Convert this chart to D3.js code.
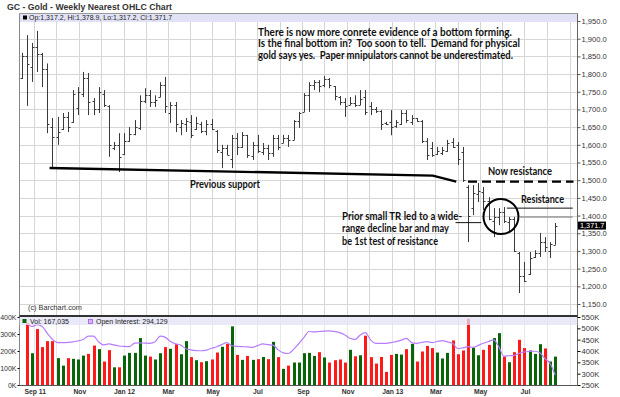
<!DOCTYPE html>
<html>
<head>
<meta charset="utf-8">
<script src="https://cdn.jsdelivr.net/npm/d3@7"></script>
<style>
  body { margin: 0; background: #fff; }
  svg { display: block; }
</style>
</head>
<body>
<div id="chart"></div>
<script>
// weekly bars, first week starts Mon Aug 15 2011
const firstWeek = new Date(2011, 7, 15);

const opens = [1790,1852,1820,1877,1856,1814,1650,1622,1645,1680, 1665,1705,1745,1790,1725,1700,1745,1710,1590,1600,
  1575,1612,1630,1648,1725,1740,1722,1736,1770,1690, 1712,1650,1660,1665,1645,1660,1640,1660,1640,1580,
  1590,1560,1620,1595,1628,1568,1600,1580,1590,1578, 1620,1605,1620,1615,1668,1693,1740,1770,1778,1768,
  1785,1765,1735,1722,1712,1718,1712,1735,1710,1702, 1695,1662,1665,1652,1660,1690,1665,1675,1668,1610,
  1590,1575,1578,1582,1608,1600,1580,1480,1420,1462, 1468,1440,1385,1395,1410,1382,1390,1295,1230,1235,
  1282,1295,1325,1300,1317.2];
const highs = [1860,1910,1888,1922,1860,1830,1676,1679,1690,1693, 1755,1763,1806,1803,1732,1763,1755,1712,1608,1633,
  1633,1650,1670,1740,1760,1755,1740,1777,1792,1721, 1721,1670,1676,1684,1679,1665,1670,1673,1642,1600,
  1600,1628,1633,1636,1628,1608,1628,1605,1600,1628, 1628,1628,1628,1670,1693,1746,1777,1783,1783,1795,
  1789,1766,1738,1732,1735,1740,1755,1755,1721,1707, 1698,1665,1698,1670,1698,1698,1684,1676,1670,1619,
  1608,1594,1594,1614,1619,1608,1594,1486,1486,1492, 1481,1452,1421,1421,1424,1396,1396,1297,1269,1297,
  1302,1351,1339,1325,1378.9];
const lows = [1786,1710,1778,1806,1763,1633,1534,1600,1642,1636, 1662,1684,1735,1684,1684,1690,1707,1566,1585,1523,
  1571,1608,1627,1642,1718,1707,1707,1735,1690,1662, 1636,1627,1636,1619,1642,1633,1627,1642,1577,1534,
  1571,1534,1571,1591,1563,1557,1577,1571,1557,1566, 1585,1605,1594,1614,1648,1693,1693,1755,1749,1763,
  1760,1726,1712,1679,1712,1707,1712,1684,1684,1690, 1642,1656,1627,1648,1656,1662,1656,1665,1605,1557,
  1566,1571,1571,1580,1591,1543,1495,1325,1401,1438, 1416,1387,1339,1373,1379,1353,1297,1181,1212,1232,
  1280,1283,1297,1280,1317.2];
const closes = [1852,1828,1877,1856,1814,1658,1622,1636,1680,1650, 1745,1750,1790,1720,1700,1750,1712,1600,1600,1565,
  1612,1630,1650,1725,1740,1722,1728,1770,1710,1712, 1660,1662,1668,1628,1662,1640,1660,1645,1585,1590,
  1572,1620,1595,1628,1570,1600,1582,1590,1578,1620, 1595,1620,1615,1668,1690,1740,1770,1778,1765,1785,
  1768,1738,1722,1710,1718,1712,1730,1692,1700,1696, 1660,1658,1650,1665,1690,1670,1675,1668,1610,1570,
  1572,1582,1585,1605,1595,1560,1500,1400,1465,1470, 1440,1390,1395,1410,1385,1390,1300,1230,1215,1280,
  1295,1325,1310,1320,1371.7];

// volume (thousands), first week has none
const volumes = [null,364,187,329,223,258,258,158,114,158, 154,150,173,183,232,211,138,205,104,104,
  173,189,189,276,173,167,150,187,223,213, 240,181,258,164,146,134,140,150,191,225,
  242,345,177,148,171,148,152,165,152,254, 164,95,114,132,132,187,189,171,193,162,
  132,146,150,132,207,169,175,290,164,126, 165,77,177,183,179,211,242,138,197,230,
  217,191,156,189,262,181,203,390,219,175, 207,236,276,305,167,134,193,266,217,203,
  183,240,215,138,167];
// open interest (thousands)
const openInterest = [null,523,508,516,508,478,451,437,437,438, 440,445,451,466,466,440,427,431,427,422,
  420,419,435,436,435,434,441,466,460,442, 432,426,410,405,402,401,404,412,419,428,
  437,423,420,419,418,416,424,431,428,426, 405,392,389,407,432,459,486,484,486,488,
  489,486,481,471,456,451,471,481,449,434, 434,434,437,441,448,456,437,434,438,441,
  437,442,446,440,434,411,414,419,416,425, 434,442,449,419,377,379,381,390,396,398,
  399,392,366,345,294];

const priceTicks = [1150,1200,1250,1300,1350,1400,1450,1500,1550,1600,1650,1700,1750,1800,1850,1900,1950];
const volLeftTicks = [0,100,200,300,400];
const volRightTicks = [250,300,350,400,450,500,550];
const monthLabels = [
  [2011,8,"Sep 11"],[2011,10,"Nov"],[2012,0,"Jan 12"],[2012,2,"Mar"],[2012,4,"May"],[2012,6,"Jul"],
  [2012,8,"Sep"],[2012,10,"Nov"],[2013,0,"Jan 13"],[2013,2,"Mar"],[2013,4,"May"],[2013,6,"Jul"]
];

// annotations in (week index, price)
const supportLine = [[5.5,1534.5],[80.2,1513],[84.8,1496]];
const nowResistance = [[87,1496],[107.7,1496]];
const resistanceLine = [[94.6,1421],[107.5,1421]];
const resistanceGray = [[97.2,1396],[107.5,1396]];
const pointerLine = [[84.6,1380],[89.7,1380]];
const circleAt = [93.5,1397];

const width = 620, height = 397;
const weekDate = i => d3.timeDay.offset(firstWeek, 7 * i);
const bars = opens.map((o, i) => ({
  date: weekDate(i), open: o, high: highs[i], low: lows[i], close: closes[i],
  vol: volumes[i], oi: openInterest[i]
}));

const x = d3.scaleTime().domain([weekDate(0), weekDate(104)]).range([21.7, 555.2]);
const y = d3.scaleLinear().domain([1150, 1950]).range([304, 21]);
const yVol = d3.scaleLinear().domain([0, 400]).range([385, 317]);
const yOI = d3.scaleLinear().domain([250, 550]).range([385, 317]);
const wx = i => x(weekDate(i));

const plotL = 19.5, plotR = 577.5, priceTop = 13.5, volTop = 316, volBot = 385;

const svg = d3.select('#chart').append('svg')
  .attr('width', width)
  .attr('height', height)
  .style('font-family', '"Liberation Sans", Arial, sans-serif');

// title
svg.append('text')
  .attr('x', 7).attr('y', 10)
  .attr('font-size', 8.5).attr('font-weight', 'bold').attr('fill', '#333')
  .attr('textLength', 165).attr('lengthAdjust', 'spacingAndGlyphs')
  .text('GC - Gold - Weekly Nearest OHLC Chart');

// grid
const months = d3.timeMonth.range(new Date(2011, 8, 1), new Date(2013, 8, 2));
const grid = svg.append('g').attr('stroke', '#d6d6d6').attr('stroke-width', 1);
grid.selectAll('.vg').data(months).enter().append('line')
  .attr('x1', d => Math.round(x(d)) + 0.5).attr('x2', d => Math.round(x(d)) + 0.5)
  .attr('y1', priceTop).attr('y2', volTop);
grid.selectAll('.hg').data(priceTicks).enter().append('line')
  .attr('x1', plotL).attr('x2', plotR)
  .attr('y1', d => Math.round(y(d)) + 0.5).attr('y2', d => Math.round(y(d)) + 0.5);
grid.selectAll('.vgv').data(months).enter().append('line')
  .attr('x1', d => Math.round(x(d)) + 0.5).attr('x2', d => Math.round(x(d)) + 0.5)
  .attr('y1', volTop).attr('y2', volBot).attr('stroke', '#e8e8e8');

// price legend band
svg.append('rect').attr('x', plotL).attr('y', priceTop).attr('width', plotR - plotL).attr('height', 8.5)
  .attr('fill', '#e2e2f6');
svg.append('rect').attr('x', 23).attr('y', 15.5).attr('width', 4).attr('height', 4).attr('fill', '#000');
svg.append('text').attr('x', 29).attr('y', 20.3).attr('font-size', 7).attr('fill', '#222')
  .text('Op:1,317.2, Hi:1,378.9, Lo:1,317.2, Cl:1,371.7');

// ohlc bars
const ohlc = svg.append('g').attr('stroke', '#3a3a3a').attr('stroke-width', 1);
bars.forEach(d => {
  const cx = Math.round(x(d.date)) + 0.5;
  ohlc.append('line').attr('x1', cx).attr('x2', cx).attr('y1', y(d.high)).attr('y2', y(d.low));
  ohlc.append('line').attr('x1', cx - 2).attr('x2', cx).attr('y1', Math.round(y(d.open)) + 0.5).attr('y2', Math.round(y(d.open)) + 0.5);
  ohlc.append('line').attr('x1', cx).attr('x2', cx + 2).attr('y1', Math.round(y(d.close)) + 0.5).attr('y2', Math.round(y(d.close)) + 0.5);
});

// frame and price axis
svg.append('line').attr('x1', plotL).attr('x2', plotL).attr('y1', priceTop).attr('y2', volBot).attr('stroke', '#888');
svg.append('line').attr('x1', plotL).attr('x2', plotR).attr('y1', priceTop).attr('y2', priceTop).attr('stroke', '#999');
svg.append('line').attr('x1', plotR).attr('x2', plotR).attr('y1', priceTop).attr('y2', volBot).attr('stroke', '#666');

const yAxis = svg.append('g').attr('transform', `translate(${plotR},0)`)
  .call(d3.axisRight(y).tickValues(priceTicks).tickSize(3).tickPadding(1).tickFormat(d3.format(',.1f')));
yAxis.select('.domain').remove();
yAxis.selectAll('line').attr('stroke', '#555');
yAxis.selectAll('text').attr('font-size', 7.6).attr('fill', '#333').attr('font-family', '"Liberation Sans", Arial, sans-serif');

// last price marker
const lastY = y(closes[closes.length - 1]);
svg.append('rect').attr('x', 578).attr('y', lastY - 4).attr('width', 28).attr('height', 8).attr('fill', '#000');
svg.append('text').attr('x', 580).attr('y', lastY + 2.6).attr('font-size', 7.3).attr('fill', '#fff')
  .text(d3.format(',.1f')(closes[closes.length - 1]));

svg.append('text').attr('x', 28).attr('y', 309.5).attr('font-size', 7.3).attr('fill', '#333').text('(c) Barchart.com');

// annotations
const pt = p => [wx(p[0]), y(p[1])];
const ann = svg.append('g');
ann.append('path').attr('d', d3.line()(supportLine.map(pt)))
  .attr('fill', 'none').attr('stroke', '#000').attr('stroke-width', 2.4);
ann.append('path').attr('d', d3.line()(nowResistance.map(pt)))
  .attr('fill', 'none').attr('stroke', '#000').attr('stroke-width', 2.4).attr('stroke-dasharray', '9,5');
ann.append('path').attr('d', d3.line()(resistanceLine.map(pt)))
  .attr('fill', 'none').attr('stroke', '#111').attr('stroke-width', 1);
ann.append('path').attr('d', d3.line()(resistanceGray.map(pt)))
  .attr('fill', 'none').attr('stroke', '#999').attr('stroke-width', 1.6);
ann.append('path').attr('d', d3.line()(pointerLine.map(pt)))
  .attr('fill', 'none').attr('stroke', '#111').attr('stroke-width', 1);
ann.append('circle').attr('cx', wx(circleAt[0])).attr('cy', y(circleAt[1])).attr('r', 17.5)
  .attr('fill', 'none').attr('stroke', '#000').attr('stroke-width', 2);

const notes = [
  [258, 35.5, 254, 'There is now more conrete evidence of a bottom forming.'],
  [258, 47, 262, 'Is the final bottom in?  Too soon to tell.  Demand for physical'],
  [258, 58.5, 255, 'gold says yes.  Paper mnipulators cannot be underestimated.'],
  [190, 187.5, 70, 'Previous support'],
  [488, 174.5, 64, 'Now resistance'],
  [521, 202.5, 43, 'Resistance'],
  [342, 219.5, 120, 'Prior small TR led to a wide-'],
  [342, 232, 107, 'range decline bar and may'],
  [342, 244.5, 96, 'be 1st test of resistance']
];
ann.selectAll('.note').data(notes).enter().append('text')
  .attr('x', d => d[0]).attr('y', d => d[1])
  .attr('textLength', d => d[2]).attr('lengthAdjust', 'spacingAndGlyphs')
  .attr('font-family', 'Lato, "Open Sans", sans-serif').attr('font-weight', 'bold')
  .attr('font-size', 10.5).attr('fill', '#111')
  .style('white-space', 'pre')
  .text(d => d[3]);

// volume panel
svg.append('g').selectAll('rect').data(bars.filter(d => d.vol != null)).enter().append('rect')
  .attr('x', d => Math.round(x(d.date)) - 1)
  .attr('y', d => yVol(d.vol))
  .attr('width', 3)
  .attr('height', d => volBot - yVol(d.vol))
  .attr('fill', d => d.close >= d.open ? '#0a640a' : '#ff1a1a');

svg.append('path')
  .attr('d', d3.line().x(d => x(d.date)).y(d => yOI(d.oi)).curve(d3.curveMonotoneX)(bars.filter(d => d.oi != null)))
  .attr('fill', 'none').attr('stroke', '#b77dff').attr('stroke-width', 1.2);

// legend band sits over the bars, half see-through
svg.append('rect').attr('x', plotL).attr('y', volTop + 1).attr('width', plotR - plotL).attr('height', 8)
  .attr('fill', '#e2e2f6').attr('opacity', 0.75);
svg.append('rect').attr('x', 22.5).attr('y', 319).attr('width', 4).attr('height', 4).attr('fill', '#0a640a');
svg.append('text').attr('x', 30).attr('y', 324).attr('font-size', 7).attr('fill', '#222').text('Vol: 167,035');
svg.append('rect').attr('x', 88.5).attr('y', 319.5).attr('width', 4).attr('height', 4)
  .attr('fill', '#d9b3ff').attr('stroke', '#9a5fe0').attr('stroke-width', 0.8);
svg.append('text').attr('x', 96).attr('y', 324).attr('font-size', 7).attr('fill', '#222').text('Open Interest: 294,129');

svg.append('line').attr('x1', plotL).attr('x2', plotR).attr('y1', volTop).attr('y2', volTop)
  .attr('stroke', '#333').attr('stroke-width', 2);
svg.append('line').attr('x1', plotL).attr('x2', plotR).attr('y1', volBot + 0.5).attr('y2', volBot + 0.5)
  .attr('stroke', '#555');

const vl = svg.append('g').attr('transform', `translate(${plotL},0)`)
  .call(d3.axisLeft(yVol).tickValues(volLeftTicks).tickSize(2).tickPadding(1).tickFormat(d => d + 'K'));
vl.select('.domain').remove();
vl.selectAll('text').attr('font-size', 7).attr('fill', '#333').attr('font-family', '"Liberation Sans", Arial, sans-serif');

const vr = svg.append('g').attr('transform', `translate(${plotR},0)`)
  .call(d3.axisRight(yOI).tickValues(volRightTicks).tickSize(3).tickPadding(1).tickFormat(d => d + 'K'));
vr.select('.domain').remove();
vr.selectAll('text').attr('font-size', 7.6).attr('fill', '#333').attr('font-family', '"Liberation Sans", Arial, sans-serif');

// month labels
svg.append('g').selectAll('text').data(monthLabels).enter().append('text')
  .attr('x', d => x(new Date(d[0], d[1], 1)) + 1)
  .attr('y', 394)
  .attr('text-anchor', 'middle')
  .attr('font-size', 6.8).attr('font-weight', 'bold').attr('fill', '#333')
  .text(d => d[2]);
</script>
</body>
</html>
